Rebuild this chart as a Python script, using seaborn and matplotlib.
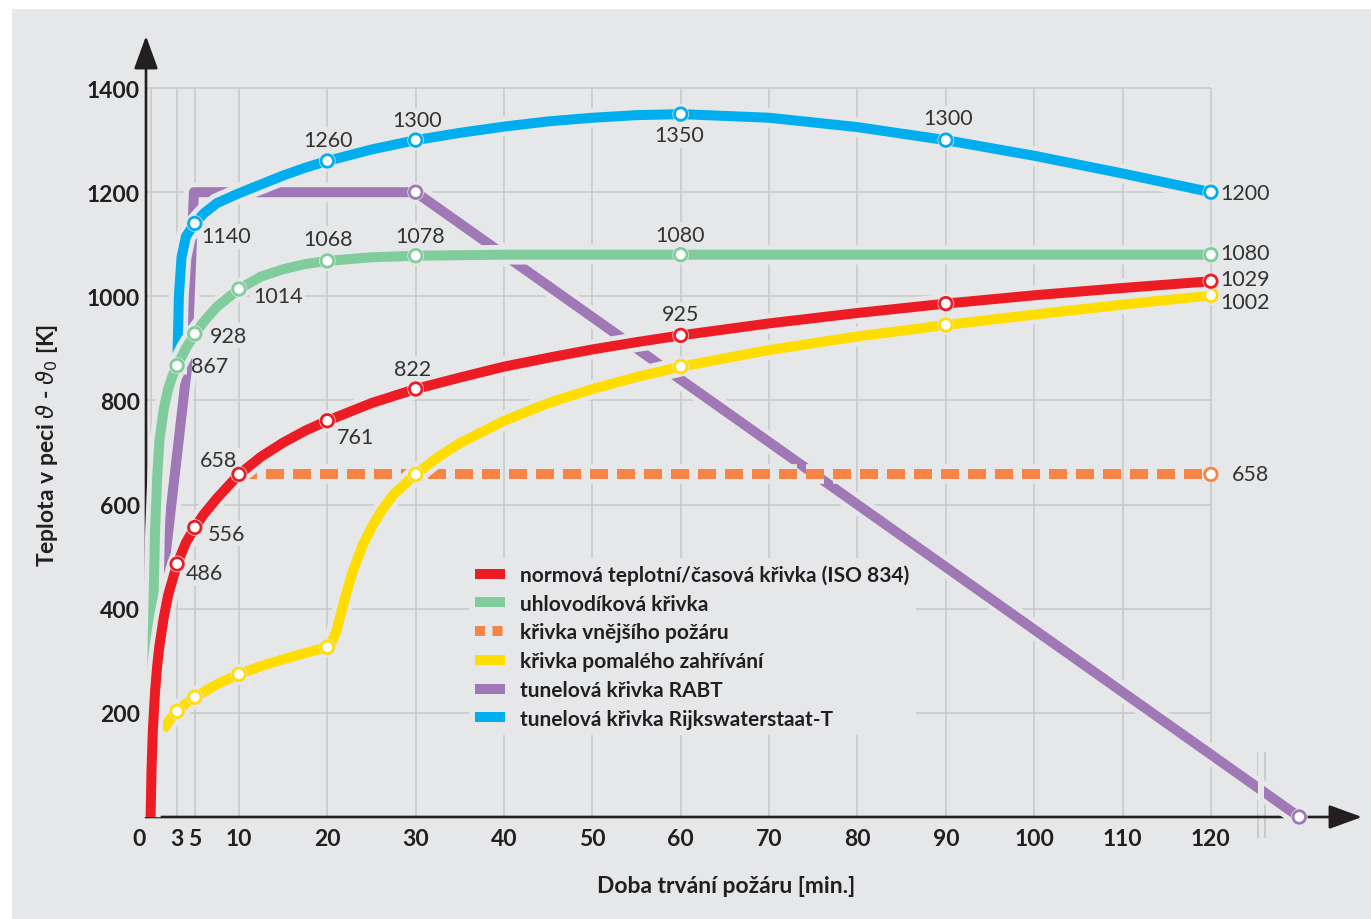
import matplotlib
matplotlib.use("Agg")
import matplotlib.pyplot as plt
import matplotlib.patheffects as pe
from matplotlib.lines import Line2D
from matplotlib.patches import Rectangle
from matplotlib.transforms import ScaledTranslation
import seaborn as sns

# --- data ---
iso_t = [0, 0.1, 0.25, 0.5, 0.75, 1, 1.5, 2, 3, 4, 5, 6, 7.5, 10, 12.5, 15, 17.5, 20, 25, 30,
         35, 40, 45, 50, 55, 60, 70, 80, 90, 100, 110, 120]
iso_T = [0, 88, 165, 240, 291, 329, 384, 427, 486, 527, 556, 581, 612, 658, 692, 719, 742, 761, 795, 822,
         844, 865, 882, 898, 912, 925, 948, 968, 986, 1002, 1016, 1029]

hc_t = [0, 0.1, 0.25, 0.5, 0.75, 1, 1.5, 2, 2.5, 3, 4, 5, 6, 7.5, 10, 12.5, 15, 17.5, 20, 25, 30,
        40, 60, 90, 120]
hc_T = [0, 167, 352, 548, 655, 723, 785, 823, 848, 867, 900, 928, 951, 980, 1014, 1038, 1052, 1062, 1068, 1075, 1078,
        1080, 1080, 1080, 1080]

ext_t = [10, 120]
ext_T = [658, 658]

slow_t = [1.4, 2, 2.5, 3, 4, 5, 6, 7.5, 10, 12.5, 15, 17.5, 20, 20.5, 21, 21.5, 22, 22.5, 23, 24, 25, 26, 27.5, 30,
          32.5, 35, 40, 45, 50, 55, 60, 70, 80, 90, 100, 110, 120]
slow_T = [167, 183, 194, 203, 218, 230, 240, 255, 274, 290, 303, 315, 326, 336, 356, 388, 420, 450, 477, 522, 556, 585, 620, 658,
          691, 718, 761, 795, 822, 845, 865, 897, 923, 945, 965, 984, 1002]

rabt_t = [1.0, 4.1, 4.9, 30, 130]
rabt_T = [400, 860, 1200, 1200, 0]

rws_t = [3.0, 3.05, 3.2, 3.5, 4.0, 5, 6, 7.5, 10, 12.5, 15, 17.5, 20, 25, 30, 35, 40, 45, 50, 55, 60,
         70, 80, 90, 100, 110, 120]
rws_T = [850, 893, 1000, 1075, 1115, 1140, 1159, 1179, 1198, 1215, 1232, 1247, 1260, 1282, 1300, 1314, 1326, 1336, 1343, 1348, 1350,
         1343, 1325, 1300, 1270, 1236, 1200]

# marked points (minutes) per curve
iso_marks = [3, 5, 10, 20, 30, 60, 90, 120]
hc_marks = [3, 5, 10, 20, 30, 60, 120]
ext_marks = [120]
slow_marks = [3, 5, 10, 20, 30, 60, 90, 120]
rabt_marks = [30, 130]
rws_marks = [5, 20, 30, 60, 90, 120]

legend_labels = [
    "normová teplotní/časová křivka (ISO 834)",
    "uhlovodíková křivka",
    "křivka vnějšího požáru",
    "křivka pomalého zahřívání",
    "tunelová křivka RABT",
    "tunelová křivka Rijkswaterstaat-T",
]

x_ticks = [0, 3, 5, 10, 20, 30, 40, 50, 60, 70, 80, 90, 100, 110, 120]
y_ticks = [200, 400, 600, 800, 1000, 1200, 1400]

# --- style ---
BG = "#e6e7e8"
INK = "#231f20"
GRID = "#c6c7c9"
LW = 7.2
COLORS = {
    "iso": "#ed1c24",
    "hc": "#80cc9c",
    "ext": "#f58446",
    "slow": "#ffdd00",
    "rabt": "#9f78b5",
    "rws": "#00aeef",
}

sns.set_theme(style="white")
plt.rcParams["font.family"] = ["Lato", "DejaVu Sans"]

fig = plt.figure(figsize=(13.71, 9.20), dpi=100, facecolor="white")
fig.patches.append(Rectangle((12 / 1371, 0), 1, 1 - 10 / 920, transform=fig.transFigure,
                             facecolor=BG, edgecolor="none", zorder=-10))
ax = fig.add_axes([146 / 1371, (920 - 818) / 920, (1362 - 146) / 1371, (818 - 37) / 920])
ax.set_facecolor(BG)
ax.set_xlim(-0.52, 137.1)
ax.set_ylim(0, 1500)
for s in ax.spines.values():
    s.set_visible(False)

# grid restricted to the 0..120 / 0..1400 field
ax.vlines(x_ticks, 0, 1400, color=GRID, lw=1.1, zorder=0.5)
ax.hlines(y_ticks, -0.52, 120, color=GRID, lw=1.1, zorder=0.5)

# axis arrows
arrow = dict(arrowstyle="-|>,head_length=0.55,head_width=0.2", lw=1.9, color=INK,
             shrinkA=0, shrinkB=0, mutation_scale=37)
ax.annotate("", xy=(0, 1), xytext=(0, 0), xycoords="axes fraction", arrowprops=arrow, zorder=1.5)
ax.annotate("", xy=(1, 0), xytext=(0, 0), xycoords="axes fraction", arrowprops=arrow, zorder=1.5)

halo = [pe.Stroke(linewidth=LW + 7, foreground=BG), pe.Normal()]

series = [
    ("rabt", rabt_t, rabt_T, rabt_marks, "-", 2),
    ("ext", ext_t, ext_T, ext_marks, (0, (1.8, 0.9)), 3),
    ("slow", slow_t, slow_T, slow_marks, "-", 4),
    ("rws", rws_t, rws_T, rws_marks, "-", 5),
    ("hc", hc_t, hc_T, hc_marks, "-", 6),
    ("iso", iso_t, iso_T, iso_marks, "-", 7),
]

for key, t, T, marks, ls, z in series:
    c = COLORS[key]
    sns.lineplot(x=t, y=T, ax=ax, color=c, linewidth=LW, linestyle=ls, sort=False,
                 estimator=None, path_effects=halo, zorder=z, solid_capstyle="butt",
                 dash_capstyle="butt", solid_joinstyle="round", clip_on=False)
    lookup = dict(zip(t, T))
    ax.plot(marks, [lookup[m] for m in marks], linestyle="none", marker="o", markersize=9,
            markerfacecolor="white", markeredgecolor=c, markeredgewidth=2,
            path_effects=[pe.Stroke(linewidth=3, foreground=BG), pe.Normal()],
            zorder=z + 0.1, clip_on=False)
    if key == "rabt":
        # axis break on the cooling branch
        ax.fill_betweenx([5, 125], 125.35, 126.05, color=BG, zorder=2.5, lw=0)
        ax.vlines([125.3, 126.1], -40, 125, color=GRID, lw=1.3, zorder=1.2, clip_on=False)

# value labels: (curve, minute, dx px, dy px, ha)
value_labels = [
    ("iso", 3, 9, -9, "left"), ("iso", 5, 13, -6, "left"), ("iso", 10, -2, 14, "right"),
    ("iso", 20, 10, -16, "left"), ("iso", 30, -3, 20, "center"), ("iso", 60, 0, 21, "center"),
    ("iso", 120, 9, 2, "left"),
    ("hc", 3, 14, 0, "left"), ("hc", 5, 15, -2, "left"), ("hc", 10, 14, -7, "left"),
    ("hc", 20, 1, 22, "center"), ("hc", 30, 4, 20, "center"), ("hc", 60, -1, 20, "center"),
    ("hc", 120, 9, 2, "left"),
    ("rws", 5, 7, -13, "left"), ("rws", 20, 1, 21, "center"), ("rws", 30, 1, 20, "center"),
    ("rws", 60, -2, -21, "center"), ("rws", 90, 2, 22, "center"), ("rws", 120, 9, -1, "left"),
    ("ext", 120, 21, 0, "left"),
    ("slow", 120, 9, -7, "left"),
]
data = {k: dict(zip(t, T)) for k, t, T, *_ in series}
for key, m, dx, dy, ha in value_labels:
    v = data[key][m]
    common = dict(xytext=(dx, dy), textcoords="offset pixels", ha=ha, va="center",
                  fontsize=15.5, annotation_clip=False)
    # background patch under the curves (hides grid), text itself above them
    ax.annotate(str(v), (m, v), color="none", zorder=1,
                bbox=dict(boxstyle="square,pad=0.12", fc=BG, ec="none"), **common)
    ax.annotate(str(v), (m, v), color="#333333", zorder=10, **common)

# ticks
ax.set_xticks(x_ticks)
ax.set_xticklabels([str(v) for v in x_ticks])
ax.set_yticks(y_ticks)
ax.set_yticklabels([str(v) for v in y_ticks])
ax.tick_params(axis="both", length=0, labelsize=16.5, labelcolor=INK)
ax.tick_params(axis="x", pad=8)
ax.tick_params(axis="y", pad=4.3)
for lab in ax.get_xticklabels() + ax.get_yticklabels():
    lab.set_fontweight("bold")
zero = ax.get_xticklabels()[0]
zero.set_transform(zero.get_transform() + ScaledTranslation(-11.6 / 100, 0, fig.dpi_scale_trans))

ax.set_xlabel("Doba trvání požáru [min.]", fontsize=16.5, fontweight="bold", color=INK)
ax.xaxis.label.set_va("center")
ax.xaxis.set_label_coords((726 - 146) / 1216, (818 - 887) / 781)
ax.set_ylabel(r"Teplota v peci $\vartheta$ - $\vartheta_0$ [K]", fontsize=16.5, fontweight="bold", color=INK)
ax.yaxis.label.set_va("center")
ax.yaxis.set_label_coords((47 - 146) / 1216, (818 - 445) / 781)

# legend
handles = []
for key in ["iso", "hc", "ext", "slow", "rabt", "rws"]:
    ls = (0, (1.0, 0.75)) if key == "ext" else "-"
    handles.append(Line2D([0], [0], color=COLORS[key], lw=LW, linestyle=ls,
                          solid_capstyle="butt", dash_capstyle="butt"))
leg = ax.legend(handles, legend_labels, loc="upper left", bbox_to_anchor=(0.257, 0.345),
                frameon=True, facecolor=BG, edgecolor="none", framealpha=1, fancybox=False,
                prop={"size": 15, "weight": "bold"}, handlelength=1.44, handletextpad=0.72,
                labelspacing=0.42, borderpad=0.3)
leg.set_zorder(1)
for txt in leg.get_texts():
    txt.set_color(INK)

fig.savefig("out.png", dpi=100, facecolor="white")
